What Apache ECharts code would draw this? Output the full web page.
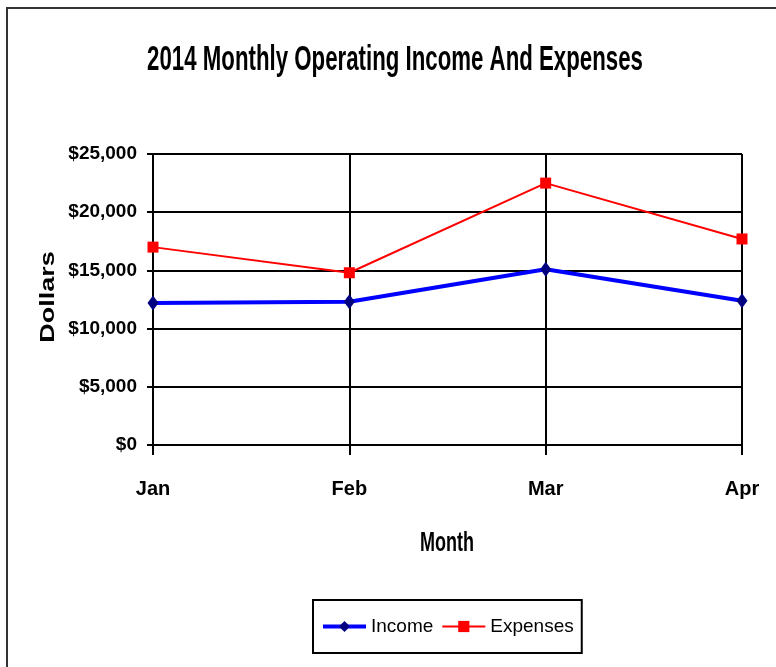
<!DOCTYPE html>
<html>
<head>
<meta charset="utf-8">
<script src="https://cdn.jsdelivr.net/npm/echarts@6/dist/echarts.min.js"></script>
<style>
	html, body { margin: 0; padding: 0; background: #fff; }
	#charts { width: 776px; height: 667px; }
</style>
</head>
<body>
<div id="charts"></div>
<script>
var months = ['Jan', 'Feb', 'Mar', 'Apr'];
var income = [12200, 12300, 15100, 12400];
var expenses = [17000, 14800, 22500, 17700];
var yTicks = { min: 0, max: 25000, interval: 5000 };

var sans = '"Liberation Sans", Arial, sans-serif';
var myChart = echarts.init(document.getElementById('charts'));

function money(v){
	return '$' + String(v).replace(/\B(?=(\d{3})+(?!\d))/g, ',');
}

var option = {
	animation: false,
	backgroundColor: '#fff',
	grid: { left: 153, right: 34, top: 154, bottom: 222 },
	graphic: [
		// 外框 (只看得到上边和左边)
		{ type: 'rect', shape: { x: 7, y: 8, width: 820, height: 720 }, style: { fill: 'none', stroke: '#333', lineWidth: 2 } },
		{ type: 'text', x: 395, y: 60, scaleX: 0.89, scaleY: 1.4, style: { text: '2014 Monthly Operating Income And Expenses', font: 'bold 25px ' + sans, fill: '#000', align: 'center', verticalAlign: 'middle' } },
		{ type: 'text', x: 447, y: 543, scaleX: 0.9, scaleY: 1.4, style: { text: 'Month', font: 'bold 20px ' + sans, fill: '#000', align: 'center', verticalAlign: 'middle' } },
		{ type: 'text', x: 48, y: 297, rotation: Math.PI / 2, scaleX: 1.35, style: { text: 'Dollars', font: 'bold 20px ' + sans, fill: '#000', align: 'center', verticalAlign: 'middle' } }
	],
	legend: {
		bottom: 14,
		left: 313,
		padding: [17, 8, 17, 8],
		borderColor: '#000',
		borderWidth: 2,
		itemWidth: 43,
		itemHeight: 14,
		itemGap: 8,
		textStyle: { fontFamily: sans, fontSize: 19, color: '#000' },
		data: [
			{ name: 'Income', lineStyle: { width: 4 } },
			{ name: 'Expenses', lineStyle: { width: 2 } }
		]
	},
	xAxis: {
		type: 'category',
		data: months,
		boundaryGap: false,
		axisLine: { lineStyle: { color: '#000', width: 2 } },
		axisTick: { show: true, length: 10, lineStyle: { color: '#000', width: 2 } },
		axisLabel: { margin: 34, fontFamily: sans, fontWeight: 'bold', fontSize: 20, color: '#000' },
		splitLine: { show: true, lineStyle: { color: '#000', width: 2 } }
	},
	yAxis: {
		type: 'value',
		min: yTicks.min,
		max: yTicks.max,
		interval: yTicks.interval,
		axisLine: { show: true, lineStyle: { color: '#000', width: 2 } },
		axisTick: { show: true, length: 6, lineStyle: { color: '#000', width: 2 } },
		axisLabel: { margin: 16, fontFamily: sans, fontWeight: 'bold', fontSize: 19, color: '#000', formatter: money },
		splitLine: { show: true, lineStyle: { color: '#000', width: 2 } }
	},
	series: [
		{
			name: 'Income',
			type: 'line',
			data: income,
			symbol: 'diamond',
			symbolSize: [11, 15],
			lineStyle: { color: '#0000ff', width: 4 },
			itemStyle: { color: '#000080' },
			color: '#0000ff'
		},
		{
			name: 'Expenses',
			type: 'line',
			data: expenses,
			symbol: 'rect',
			symbolSize: 11,
			lineStyle: { color: '#ff0000', width: 2 },
			itemStyle: { color: '#ff0000' },
			color: '#ff0000'
		}
	]
};

myChart.setOption(option);
</script>
</body>
</html>
